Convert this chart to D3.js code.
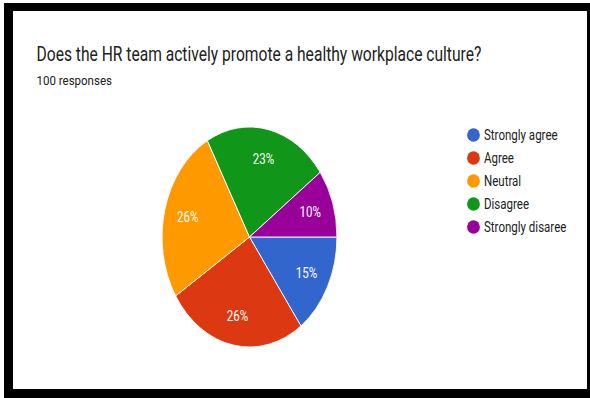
<!DOCTYPE html>
<html>
<head>
<meta charset="utf-8">
<script src="https://cdn.jsdelivr.net/npm/d3@7"></script>
<style>
  html, body { margin: 0; padding: 0; background: #fff; }
  svg { display: block; font-family: Roboto, "Noto Sans", Arial, sans-serif; }
</style>
</head>
<body>
<svg id="chart" width="590" height="398"></svg>
<script>
// Survey answers and their share of the 100 responses
const categories = ["Strongly agree", "Agree", "Neutral", "Disagree", "Strongly disaree"];
const values = [15, 26, 26, 23, 10];
const colors = ["#3366cc", "#dc3912", "#ff9900", "#109618", "#990099"];
const titleText = "Does the HR team actively promote a healthy workplace culture?";
const subtitleText = "100 responses";

const W = 590, H = 398;
const squeeze = 0.795;          // horizontal compression of the whole card
const svg = d3.select("#chart");

// Framed card
svg.append("rect").attr("x", 4).attr("y", 3).attr("width", W - 4).attr("height", H - 2)
  .attr("fill", "#000");
svg.append("rect").attr("x", 13).attr("y", 11).attr("width", 574).attr("height", 378)
  .attr("fill", "#fff");

// Text squeezed horizontally so that it spans a given width
function fittedText(x, y, size, width, str) {
  const t = svg.append("text").attr("font-size", size).attr("fill", "#212121").text(str);
  const natural = t.node().getComputedTextLength();
  t.attr("transform", `translate(${x},${y}) scale(${width / natural},1)`);
  return t;
}
fittedText(36.5, 61, 19.5, 445, titleText);
fittedText(36.5, 85, 12, 75.5, subtitleText);

// Pie (drawn as a circle, then compressed horizontally into an ellipse)
const cx = 249.5, cy = 237, R = 110;
const pie = d3.pie().sort(null).value(d => d)
  .startAngle(Math.PI / 2).endAngle(Math.PI / 2 + 2 * Math.PI);
const arcs = pie(values);
const arc = d3.arc().innerRadius(0).outerRadius(R);
const labelArc = d3.arc().innerRadius(R * 0.73).outerRadius(R * 0.73);

const pg = svg.append("g").attr("transform", `translate(${cx},${cy}) scale(${squeeze},1)`);
pg.selectAll("path.slice").data(arcs).enter().append("path")
  .attr("class", "slice")
  .attr("d", arc)
  .attr("fill", (d, i) => colors[i])
  .attr("stroke", "#fff").attr("stroke-width", 1);

pg.selectAll("text.pct").data(arcs).enter().append("text")
  .attr("class", "pct")
  .attr("x", d => labelArc.centroid(d)[0])
  .attr("y", d => labelArc.centroid(d)[1])
  .attr("text-anchor", "middle").attr("dominant-baseline", "central")
  .attr("font-size", 14.5).attr("fill", "#fff")
  .text(d => Math.round(d.value / d3.sum(values) * 100) + "%");

// Legend
const legendY = d3.scalePoint().domain(categories).range([135, 227]);
const lg = svg.append("g");
const rows = lg.selectAll("g.row").data(categories).enter().append("g")
  .attr("class", "row")
  .attr("transform", d => `translate(473.5,${legendY(d)})`);
rows.append("ellipse").attr("rx", 6.4).attr("ry", 6.8)
  .attr("fill", (d, i) => colors[i]);
rows.append("text")
  .attr("transform", `translate(10.5,0) scale(${squeeze},1)`)
  .attr("dominant-baseline", "central")
  .attr("font-size", 14.5).attr("fill", "#222")
  .text(d => d);
</script>
</body>
</html>
